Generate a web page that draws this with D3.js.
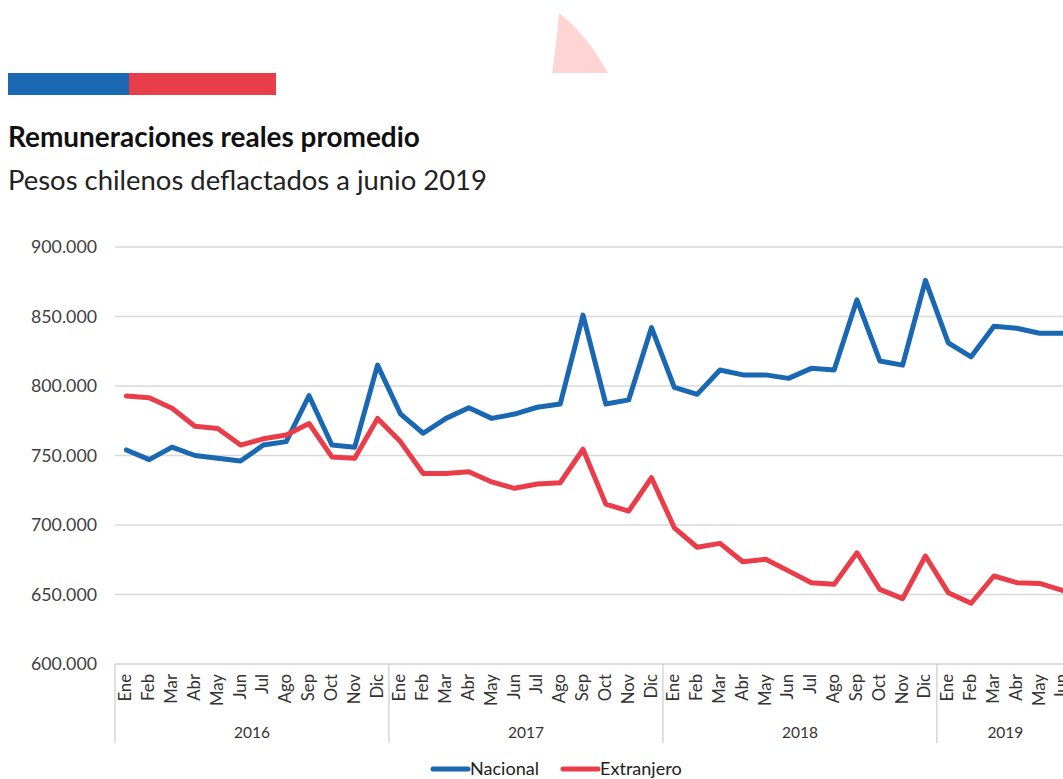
<!DOCTYPE html>
<html>
<head>
<meta charset="utf-8">
<script src="https://cdn.jsdelivr.net/npm/d3@7"></script>
<style>
  html, body { margin: 0; padding: 0; background: #fff; overflow: hidden; }
  svg { display: block; }
</style>
</head>
<body>
<svg id="chart" width="1200" height="779"></svg>
<script>
const monthNames = ["Ene","Feb","Mar","Abr","May","Jun","Jul","Ago","Sep","Oct","Nov","Dic"];
const years = ["2016","2017","2018","2019"];
const monthsPerYear = [12, 12, 12, 6];
const nacional = [
  754000, 747000, 756000, 750000, 748000, 746000, 757500, 760000, 793000, 757500, 756000, 815000,
  780000, 766000, 776700, 784400, 776700, 779800, 784700, 787000, 851000, 787000, 790000, 842000,
  799000, 794000, 811500, 808000, 808000, 805500, 812700, 811500, 862000, 818000, 815000, 876000,
  831000, 821000, 843000, 841500, 838000, 838000
];
const extranjero = [
  792800, 791600, 784000, 771000, 769500, 757500, 762000, 764700, 773000, 749000, 748000, 776700,
  760000, 737000, 737000, 738300, 731000, 726400, 729500, 730400, 754500, 715000, 710000, 734000,
  698000, 684000, 686800, 673600, 675300, 667000, 658500, 657300, 680000, 653700, 647000, 677700,
  651300, 643700, 663300, 658500, 658000, 653000
];
const yTicks = [600000, 650000, 700000, 750000, 800000, 850000, 900000];
const seriesNames = ["Nacional", "Extranjero"];
const seriesColors = ["#1a67b2", "#e93e49"];

const FONT = "Lato, 'Open Sans', sans-serif";
const svg = d3.select("#chart");

// font size that makes a text reach a given width
function fitSize(str, weight, target) {
  const t = svg.append("text").attr("font-family", FONT).attr("font-weight", weight)
    .attr("font-size", 100).text(str);
  const w = t.node().getComputedTextLength();
  t.remove();
  return 100 * target / w;
}
const titleSize = fitSize("Remuneraciones reales promedio", "bold", 412);
const subSize = fitSize("Pesos chilenos deflactados a junio 2019", "normal", 479);
const tickSize = fitSize("900.000", "normal", 66);
const monthSize = fitSize("May", "normal", 32);
const yearSize = fitSize("2016", "normal", 36);
const legendSize = fitSize("Nacional", "normal", 69);

// header decorations
svg.append("rect").attr("x", 8).attr("y", 73).attr("width", 121).attr("height", 22).attr("fill", "#1a67b2");
svg.append("rect").attr("x", 129).attr("y", 73).attr("width", 147).attr("height", 22).attr("fill", "#e93e49");
svg.append("path")
  .attr("d", "M559,13 C557,36 555,55 552,73 L608,73 C593,46 578,28 559,13 Z")
  .attr("fill", "#ffd5d3");

svg.append("text").attr("x", 8).attr("y", 147)
  .attr("font-family", FONT).attr("font-weight", "bold")
  .attr("font-size", titleSize).attr("fill", "#111")
  .text("Remuneraciones reales promedio");
svg.append("text").attr("x", 8).attr("y", 190)
  .attr("font-family", FONT)
  .attr("font-size", subSize).attr("fill", "#222")
  .text("Pesos chilenos deflactados a junio 2019");

// scales
const labels = [];
years.forEach((y, i) => { for (let m = 0; m < monthsPerYear[i]; m++) labels.push(y + "-" + m); });
const x = d3.scaleBand().domain(labels).range([115, 115 + 22.83 * labels.length]).padding(0);
const y = d3.scaleLinear().domain([600000, 900000]).range([664, 247]);
const cx = i => x(labels[i]) + x.bandwidth() / 2;

const fmtTick = v => (v / 1000).toFixed(0) + ".000";

// y axis labels
const yAxis = d3.axisLeft(y).tickValues(yTicks).tickSize(0).tickFormat(fmtTick);
const gy = svg.append("g").attr("transform", "translate(115,0)").call(yAxis);
gy.select(".domain").remove();
gy.selectAll("text").attr("x", -18).attr("font-family", FONT)
  .attr("font-size", tickSize).attr("fill", "#404040");

// grid
svg.append("g").selectAll("line").data(yTicks.filter(t => t > 600000)).join("line")
  .attr("x1", 115).attr("x2", 1200).attr("y1", d => y(d)).attr("y2", d => y(d))
  .attr("stroke", "#d9d9d9").attr("stroke-width", 1.3);

// x axis baseline
svg.append("line").attr("x1", 115).attr("x2", 1200).attr("y1", y(600000)).attr("y2", y(600000))
  .attr("stroke", "#d0d0d0").attr("stroke-width", 1.3);

// year dividers
let idx = 0;
const bounds = [0];
monthsPerYear.forEach(n => { idx += n; bounds.push(idx); });
svg.append("g").selectAll("line").data(bounds.slice(0, -1)).join("line")
  .attr("x1", d => x(labels[d])).attr("x2", d => x(labels[d]))
  .attr("y1", y(600000)).attr("y2", 743)
  .attr("stroke", "#d0d0d0").attr("stroke-width", 1.3);

// month labels
svg.append("g").selectAll("text").data(labels).join("text")
  .attr("transform", (d, i) => `translate(${cx(i) + 5},${y(600000) + 10}) rotate(-90)`)
  .attr("text-anchor", "end")
  .attr("font-family", FONT).attr("font-size", monthSize)
  .attr("fill", "#333")
  .text(d => monthNames[+d.split("-")[1]]);

// year labels
svg.append("g").selectAll("text").data(years).join("text")
  .attr("x", (d, i) => (x(labels[bounds[i]]) + x(labels[bounds[i + 1] - 1]) + x.bandwidth()) / 2)
  .attr("y", 738)
  .attr("text-anchor", "middle")
  .attr("font-family", FONT).attr("font-size", yearSize)
  .attr("fill", "#333")
  .text(d => d);

// lines
const line = d3.line().x((d, i) => cx(i)).y(d => y(d));
[nacional, extranjero].forEach((s, k) => {
  svg.append("path").datum(s).attr("d", line)
    .attr("fill", "none").attr("stroke", seriesColors[k])
    .attr("stroke-width", 5).attr("stroke-linejoin", "round").attr("stroke-linecap", "round");
});

// legend
const legendX = [430, 560];
seriesNames.forEach((n, k) => {
  svg.append("line").attr("x1", legendX[k] + 3).attr("x2", legendX[k] + 38)
    .attr("y1", 769).attr("y2", 769)
    .attr("stroke", seriesColors[k]).attr("stroke-width", 5).attr("stroke-linecap", "round");
  svg.append("text").attr("x", legendX[k] + 40).attr("y", 775)
    .attr("font-family", FONT).attr("font-size", legendSize)
    .attr("fill", "#222").text(n);
});
</script>
</body>
</html>
